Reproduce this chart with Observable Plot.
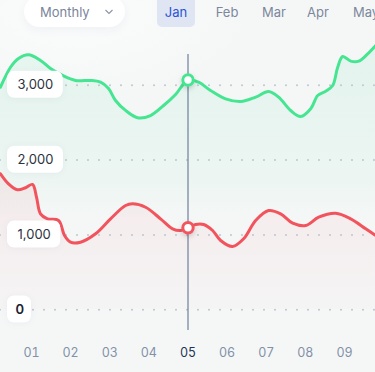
<!DOCTYPE html>
<html><head><meta charset="utf-8">
<script src="https://cdn.jsdelivr.net/npm/d3@7"></script>
<script src="https://cdn.jsdelivr.net/npm/@observablehq/plot@0.6"></script>
<style>
html,body{margin:0;padding:0;}
body{width:375px;height:372px;overflow:hidden;background:#f5f7f7;font-family:Inter,"Noto Sans",sans-serif;}
#wrap{position:relative;width:375px;height:372px;overflow:hidden;background:radial-gradient(ellipse 180px 90px at 75px 10px,#fbfcfc,rgba(245,247,247,0));}
#chart{position:absolute;left:0;top:0;}
#header{position:absolute;left:0;top:0;width:375px;height:30px;font-size:13px;}
.pill{position:absolute;left:24px;top:-4px;width:101px;height:31px;background:#fff;border-radius:16px;box-shadow:0 3px 10px rgba(40,60,90,0.05);}
.pill span{position:absolute;left:16px;top:4px;line-height:24px;color:#7a859b;}
.pill svg{position:absolute;}
.tab{position:absolute;top:0;width:50px;text-align:center;line-height:24px;color:#7c879c;}
.tab.active{color:#2a55d6;}
.tabbg{position:absolute;left:157px;top:-4px;width:38px;height:31px;border-radius:5px;background:#dfe5f3;}
#dbg{position:absolute;left:150px;top:330px;font-size:10px;color:#c00;}
</style>
</head><body>
<div id="wrap">
  <div id="chart"></div>
  <div id="header">
    <div class="pill"><span>Monthly</span><svg width="10" height="8" style="left:80px;top:12px" viewBox="0 0 10 8"><polyline points="1.5,2 5,5.5 8.5,2" fill="none" stroke="#8a93a6" stroke-width="1.1"/></svg></div>
    <div class="tabbg"></div>
  </div>
  <div id="dbg"></div>
</div>
<script>
// ---- data ----
const tabs = ["Jan", "Feb", "Mar", "Apr", "May"];
const tabCenters = [176, 227, 274, 318, 366];
const activeTab = "Jan";

const xTicks = [1, 2, 3, 4, 5, 6, 7, 8, 9];
const selectedDay = 5;
const yTicks = [0, 1000, 2000, 3000];

const greenDays = [0.207,0.463,0.668,0.923,1.230,1.486,1.793,2.125,2.509,2.765,2.969,3.148,3.404,3.711,4.043,4.376,4.683,5.0,5.271,5.578,5.962,6.345,6.729,7.061,7.317,7.624,7.880,8.136,8.315,8.519,8.698,8.826,8.954,9.159,9.363,9.593,9.798];
const greenValues = [2973,3240,3357,3406,3330,3223,3130,3063,3063,3040,2956,2796,2663,2565,2595,2729,2876,3070,3040,2929,2818,2782,2840,2916,2840,2662,2582,2685,2862,2920,2996,3240,3383,3321,3321,3419,3530];

const redDays = [0.207,0.412,0.642,0.847,1.026,1.128,1.230,1.409,1.691,1.844,1.997,2.253,2.637,3.020,3.404,3.583,3.916,4.299,4.606,4.811,5.0,5.194,5.399,5.629,5.834,6.141,6.422,6.729,7.061,7.368,7.675,8.008,8.340,8.775,9.159,9.542,9.798];
const redValues = [1817,1683,1603,1630,1674,1504,1282,1215,1193,992,903,903,1015,1215,1393,1416,1370,1215,1082,1059,1095,1139,1139,1059,926,846,948,1193,1326,1282,1157,1126,1237,1290,1215,1082,992];

const selectedGreen = 3070;
const selectedRed = 1095;

// ---- header ----
const header = document.getElementById("header");
tabs.forEach((t, i) => {
  const d = document.createElement("div");
  d.className = "tab" + (t === activeTab ? " active" : "");
  d.style.left = (tabCenters[i] - 25) + "px";
  d.textContent = t;
  header.appendChild(d);
});

// ---- chart ----
const green = greenDays.map((d, i) => ({day: d, value: greenValues[i]}));
const red = redDays.map((d, i) => ({day: d, value: redValues[i]}));
const GREEN = "#45e592", RED = "#f2545e";
const curve = "catmull-rom";

const defs = () => {
  const s = d3.create("svg:defs");
  const mk = (id, c, stops) => {
    const g = s.append("linearGradient").attr("id", id).attr("x1", 0).attr("y1", 0).attr("x2", 0).attr("y2", 1);
    stops.forEach(([o, a]) => g.append("stop").attr("offset", o).attr("stop-color", c).attr("stop-opacity", a));
  };
  mk("gG", "#2fcf86", [["0%", 0.09], ["50%", 0.045], ["66%", 0.0], ["100%", 0]]);
  mk("gR", "#f04a5a", [["0%", 0.08], ["100%", 0.015]]);
  const f = s.append("filter").attr("id", "sh").attr("x", "-100%").attr("y", "-100%").attr("width", "300%").attr("height", "300%");
  f.append("feDropShadow").attr("dx", 0).attr("dy", 2).attr("stdDeviation", 2.5).attr("flood-color", "#000").attr("flood-opacity", 0.18);
  return s.node();
};

const fmt = d3.format(",");
const plot = Plot.plot({
  width: 375,
  height: 372,
  marginTop: 54,
  marginBottom: 42,
  marginLeft: 0,
  marginRight: 0,
  style: {background: "transparent", fontFamily: "Inter, 'Noto Sans', sans-serif", overflow: "hidden"},
  x: {domain: [1, 9], range: [31, 344], axis: null},
  y: {domain: [0, 3000], range: [309.3, 84.7], axis: null},
  marks: [
    defs,
    Plot.areaY(green, {x: "day", y: "value", fill: "url(#gG)", curve}),
    Plot.areaY(red, {x: "day", y: "value", fill: "url(#gR)", curve}),
    Plot.ruleY(yTicks, {y: d => d, stroke: "#bfc5ce", strokeWidth: 2, strokeDasharray: "0,11", strokeLinecap: "round"}),
    Plot.lineY(green, {x: "day", y: "value", stroke: GREEN, strokeWidth: 3, curve}),
    Plot.lineY(red, {x: "day", y: "value", stroke: RED, strokeWidth: 3, curve}),
    Plot.ruleX([selectedDay], {x: d => d, stroke: "#6f7f9c", strokeWidth: 1.2}),
    Plot.text(yTicks.filter(d => d !== 0), {y: d => d, text: d => fmt(d), frameAnchor: "left", dx: 17, textAnchor: "start", fontSize: 13, fill: "#2c3240", ariaDescription: "ylabel"}),
    Plot.text(yTicks.filter(d => d === 0), {y: d => d, text: d => fmt(d), frameAnchor: "left", dx: 15, textAnchor: "start", fontSize: 13, fontWeight: 600, fill: "#1b2130", ariaDescription: "ylabel"}),
    Plot.dot([selectedGreen], {x: () => selectedDay, y: d => d, r: 5.2, fill: "#fff", stroke: GREEN, strokeWidth: 3, ariaDescription: "marker"}),
    Plot.dot([selectedRed], {x: () => selectedDay, y: d => d, r: 5.2, fill: "#fff", stroke: RED, strokeWidth: 3, ariaDescription: "marker"}),
    Plot.axisX(xTicks.filter(d => d !== selectedDay), {tickSize: 0, tickPadding: 18, tickFormat: d => String(d).padStart(2, "0"), fontSize: 12.5, fill: "#8391a8", label: null}),
    Plot.axisX([selectedDay], {tickSize: 0, tickPadding: 18, tickFormat: d => String(d).padStart(2, "0"), fontSize: 12.5, fill: "#1e3457", label: null})
  ]
});
document.getElementById("chart").appendChild(plot);

// shadows on markers, white rounded boxes behind the y tick labels
let err = "";
try {
  plot.querySelectorAll('[aria-description="marker"]').forEach(g => g.setAttribute("filter", "url(#sh)"));
  const sr = plot.getBoundingClientRect();
  plot.querySelectorAll('[aria-description="ylabel"]').forEach(g => {
    g.querySelectorAll("text").forEach(t => {
      const b = t.getBoundingClientRect();
      const cy = b.top - sr.top + b.height / 2;
      const w = b.width < 12 ? 24 : b.width + 20;
      const r = document.createElementNS("http://www.w3.org/2000/svg", "rect");
      r.setAttribute("x", 7); r.setAttribute("y", cy - 13.5);
      r.setAttribute("width", w); r.setAttribute("height", 27);
      r.setAttribute("rx", 7); r.setAttribute("fill", "#ffffff");
      r.setAttribute("style", "filter: drop-shadow(0 1px 3px rgba(36,64,106,0.05))");
      g.parentNode.insertBefore(r, g);
    });
  });
} catch (e) { err = String(e); }
if (err) document.getElementById("dbg").textContent = err;
</script>
</body></html>
